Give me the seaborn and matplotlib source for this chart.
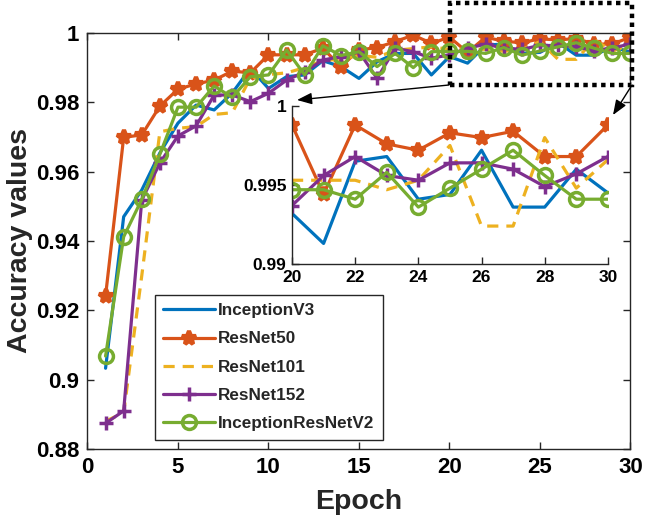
import matplotlib
matplotlib.use("Agg")
import matplotlib.pyplot as plt
import seaborn as sns
import pandas as pd
from matplotlib.patches import Rectangle

epochs = list(range(1, 31))
inception_v3 = [0.9033, 0.9470, 0.9547, 0.9654, 0.9740, 0.9792, 0.9778, 0.9827, 0.9898, 0.9840,
                0.9874, 0.9879, 0.9920, 0.9903, 0.9869, 0.9917, 0.9941, 0.9941, 0.9879, 0.9932,
                0.9913, 0.9965, 0.9968, 0.9941, 0.9944, 0.9972, 0.9936, 0.9936, 0.9960, 0.9945]
resnet50 = [0.9242, 0.9699, 0.9706, 0.9789, 0.9838, 0.9853, 0.9864, 0.9890, 0.9885, 0.9937,
            0.9937, 0.9937, 0.9956, 0.9903, 0.9951, 0.9958, 0.9975, 0.9994, 0.9970, 0.9988,
            0.9944, 0.9988, 0.9976, 0.9972, 0.9983, 0.9980, 0.9984, 0.9968, 0.9968, 0.9988]
resnet101 = [0.8880, 0.8905, 0.9300, 0.9715, 0.9725, 0.9730, 0.9765, 0.9770, 0.9870, 0.9880,
             0.9885, 0.9900, 0.9920, 0.9925, 0.9935, 0.9930, 0.9950, 0.9955, 0.9960, 0.9953,
             0.9953, 0.9953, 0.9947, 0.9953, 0.9975, 0.9924, 0.9924, 0.9980, 0.9948, 0.9966]
resnet152 = [0.8874, 0.8910, 0.9518, 0.9625, 0.9703, 0.9732, 0.9821, 0.9821, 0.9802, 0.9826,
             0.9864, 0.9888, 0.9922, 0.9932, 0.9946, 0.9869, 0.9956, 0.9946, 0.9927, 0.9937,
             0.9956, 0.9968, 0.9956, 0.9953, 0.9964, 0.9964, 0.9960, 0.9949, 0.9957, 0.9968]
inception_resnet_v2 = [0.9068, 0.9412, 0.9520, 0.9650, 0.9786, 0.9786, 0.9847, 0.9814, 0.9874, 0.9879,
                       0.9951, 0.9879, 0.9963, 0.9935, 0.9946, 0.9903, 0.9941, 0.9900, 0.9946, 0.9947,
                       0.9947, 0.9941, 0.9958, 0.9936, 0.9948, 0.9960, 0.9972, 0.9956, 0.9941, 0.9941]

models = ["InceptionV3", "ResNet50", "ResNet101", "ResNet152", "InceptionResNetV2"]
series = [inception_v3, resnet50, resnet101, resnet152, inception_resnet_v2]

main_xticks = [0, 5, 10, 15, 20, 25, 30]
main_yticks = [0.88, 0.9, 0.92, 0.94, 0.96, 0.98, 1.0]
main_ytick_labels = ["0.88", "0.9", "0.92", "0.94", "0.96", "0.98", "1"]
inset_xticks = [20, 22, 24, 26, 28, 30]
inset_yticks = [0.99, 0.995, 1.0]
inset_ytick_labels = ["0.99", "0.995", "1"]

rows = []
for m, vals in zip(models, series):
    for e, v in zip(epochs, vals):
        rows.append({"model": m, "Epoch": e, "Accuracy": v})
df = pd.DataFrame(rows)

colors = {"InceptionV3": "#0072BD", "ResNet50": "#D95319", "ResNet101": "#EDB120",
          "ResNet152": "#7E2F8E", "InceptionResNetV2": "#77AC30"}
styles = {
    "InceptionV3": dict(marker=None, linestyle="-"),
    "ResNet50": dict(marker="*", linestyle="-", markersize=10, markeredgewidth=3),
    "ResNet101": dict(marker=None, linestyle=(0, (3.5, 2.5))),
    "ResNet152": dict(marker="+", linestyle="-", markersize=10, markeredgewidth=2.5),
    "InceptionResNetV2": dict(marker="o", linestyle="-", markersize=10, markeredgewidth=2.5,
                              markerfacecolor="none"),
}

sns.set_style("ticks")
plt.rcParams["font.family"] = ["Liberation Sans", "DejaVu Sans"]
plt.rcParams["font.weight"] = "bold"

fig = plt.figure(figsize=(6.46, 5.21), dpi=100)
ax = fig.add_axes([0.1354, 0.1382, 0.8406, 0.7985])

def draw(axis, sub):
    for m in models:
        d = sub[sub.model == m]
        st = dict(styles[m])
        if "markeredgecolor" not in st:
            st["markeredgecolor"] = colors[m]
        sns.lineplot(data=d, x="Epoch", y="Accuracy", ax=axis, color=colors[m],
                     linewidth=2.3, label=m, legend=False, **st)

draw(ax, df)
ax.set_xlim(0, 30)
ax.set_ylim(0.88, 1.0)
ax.set_xticks(main_xticks)
ax.set_xticklabels([str(t) for t in main_xticks])
ax.set_yticks(main_yticks)
ax.set_yticklabels(main_ytick_labels)
ax.tick_params(direction="in", top=True, right=True, length=5, width=1, labelsize=16,
               colors="#262626", labelcolor="black", pad=6)
for lab in ax.get_xticklabels() + ax.get_yticklabels():
    lab.set_fontweight("bold")
for s in ax.spines.values():
    s.set_color("#262626")
    s.set_linewidth(1)
ax.set_xlabel("Epoch", fontsize=20.5, fontweight="bold", labelpad=8)
ax.set_ylabel("Accuracy values", fontsize=20.5, fontweight="bold", labelpad=2)

leg = ax.legend(loc="lower left", bbox_to_anchor=(0.124, 0.0216),
                prop={"weight": "bold", "size": 12.3}, frameon=True, fancybox=False,
                framealpha=1, edgecolor="#262626", borderaxespad=0, borderpad=0.5,
                handlelength=3.0, handletextpad=0.2, labelspacing=0.78)
leg.get_frame().set_linewidth(1)

# zoom rectangle
rect = Rectangle((20.03, 0.985), 10.07, 0.0236, fill=False, edgecolor="black",
                 linestyle=(0, (1, 1)), linewidth=3.2, clip_on=False, zorder=10)
ax.add_patch(rect)

# inset
ins = fig.add_axes([0.452, 0.4933, 0.489, 0.3033])
ins.set_facecolor("white")
draw(ins, df[df.Epoch >= 20])
ins.set_xlim(20, 30)
ins.set_ylim(0.99, 1.0)
ins.set_xticks(inset_xticks)
ins.set_xticklabels([str(t) for t in inset_xticks])
ins.set_yticks(inset_yticks)
ins.set_yticklabels(inset_ytick_labels)
ins.set_xlabel("")
ins.set_ylabel("")
ins.spines["top"].set_visible(False)
ins.spines["right"].set_visible(False)
for s in ["left", "bottom"]:
    ins.spines[s].set_color("#262626")
    ins.spines[s].set_linewidth(1)
ins.tick_params(direction="in", length=5, width=1, labelsize=12.5, colors="#262626",
                labelcolor="black", pad=4)
for lab in ins.get_xticklabels() + ins.get_yticklabels():
    lab.set_fontweight("bold")

H = 521
arrowprops = dict(arrowstyle="-|>,head_length=0.9,head_width=0.35", color="black",
                  linewidth=1, shrinkA=0, shrinkB=0)
ax.annotate("", xy=(297, H - 100), xycoords="figure pixels",
            xytext=(449, H - 85), textcoords="figure pixels", arrowprops=arrowprops,
            annotation_clip=False, zorder=11)
ax.annotate("", xy=(613, H - 115), xycoords="figure pixels",
            xytext=(632, H - 85), textcoords="figure pixels", arrowprops=arrowprops,
            annotation_clip=False, zorder=11)

fig.savefig("out.png", dpi=100)
